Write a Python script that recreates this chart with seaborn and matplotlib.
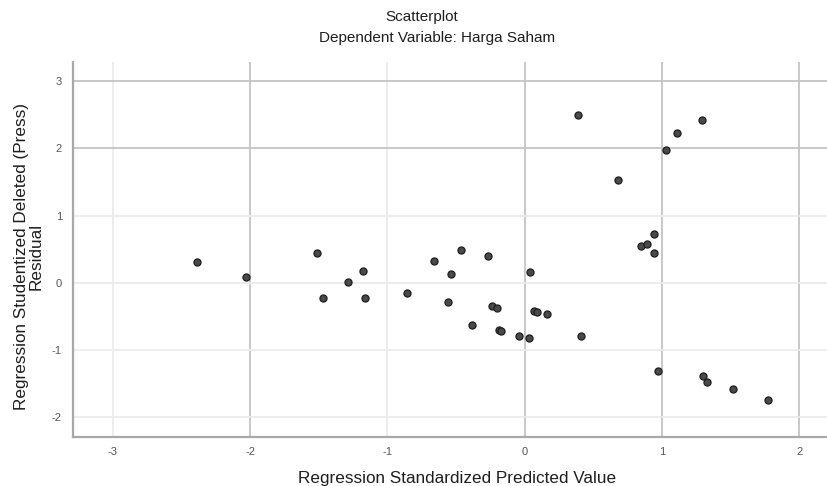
import matplotlib
matplotlib.use("Agg")
import matplotlib.pyplot as plt
import seaborn as sns
import pandas as pd

predicted = [-2.39, -2.03, -1.51, -1.47, -1.29, -1.18, -1.16, -0.86, -0.66, -0.56,
             -0.54, -0.46, -0.38, -0.27, -0.24, -0.20, -0.19, -0.17, -0.04, 0.03,
             0.04, 0.07, 0.09, 0.16, 0.39, 0.41, 0.68, 0.85, 0.89, 0.94,
             0.94, 0.97, 1.03, 1.11, 1.29, 1.30, 1.33, 1.52, 1.77]
residual = [0.31, 0.09, 0.45, -0.22, 0.01, 0.18, -0.23, -0.15, 0.33, -0.28,
            0.13, 0.49, -0.62, 0.40, -0.35, -0.38, -0.70, -0.71, -0.79, -0.82,
            0.16, -0.42, -0.43, -0.47, 2.50, -0.79, 1.52, 0.54, 0.58, 0.72,
            0.45, -1.31, 1.97, 2.22, 2.42, -1.39, -1.47, -1.58, -1.74]
xticks = [-3, -2, -1, 0, 1, 2]
yticks = [-2, -1, 0, 1, 2, 3]

df = pd.DataFrame({"x": predicted, "y": residual})

sns.set_style("white")
plt.rcParams['font.family'] = ['Liberation Sans', 'DejaVu Sans']

fig = plt.figure(figsize=(8.28, 4.86), dpi=100)
ax = fig.add_axes([73/828, 1 - 437/486, 1 - 73/828, (437 - 62)/486])

for t in xticks:
    strong = t in (-2, 0, 1, 2)
    ax.axvline(t, color="#c4c4c4" if strong else "#ececec", lw=1.3, zorder=0)
for t in yticks:
    strong = t in (2, 3)
    ax.axhline(t, color="#c4c4c4" if strong else "#ececec", lw=1.3, zorder=0)

sns.scatterplot(data=df, x="x", y="y", ax=ax, s=26, color="#4a4a4a",
                edgecolor="#1e1e1e", linewidth=0.9, zorder=3)

ax.set_xlim(-3.29, 2.21)
ax.set_ylim(-2.29, 3.28)
ax.set_xticks(xticks)
ax.set_yticks(yticks)
ax.set_xticklabels([str(t) for t in xticks], fontsize=8, color="#555555")
ax.set_yticklabels([str(t) for t in yticks], fontsize=8, color="#555555")
ax.tick_params(axis="x", length=0, pad=7)
ax.tick_params(axis="y", length=0, pad=8)

for s in ("top", "right"):
    ax.spines[s].set_visible(False)
for s in ("left", "bottom"):
    ax.spines[s].set_color("#a8a8a8")
    ax.spines[s].set_linewidth(1.6)

ax.set_xlabel("")
ax.set_ylabel("")
fig.text(457/828, 1 - 478/486, "Regression Standardized Predicted Value",
         ha="center", va="center", fontsize=12.3, color="#1e1e1e")
fig.text(29/828, 1 - 256/486, "Regression Studentized Deleted (Press)\nResidual",
         ha="center", va="center", rotation=90, fontsize=12.3, color="#1e1e1e",
         linespacing=0.95)

fig.text(422/828, 1 - 17/486, "Scatterplot", ha="center", va="center",
         fontsize=11, color="#1e1e1e")
fig.text(437/828, 1 - 38/486, "Dependent Variable: Harga Saham", ha="center",
         va="center", fontsize=11, color="#1e1e1e")

fig.savefig("out.png", dpi=100)
